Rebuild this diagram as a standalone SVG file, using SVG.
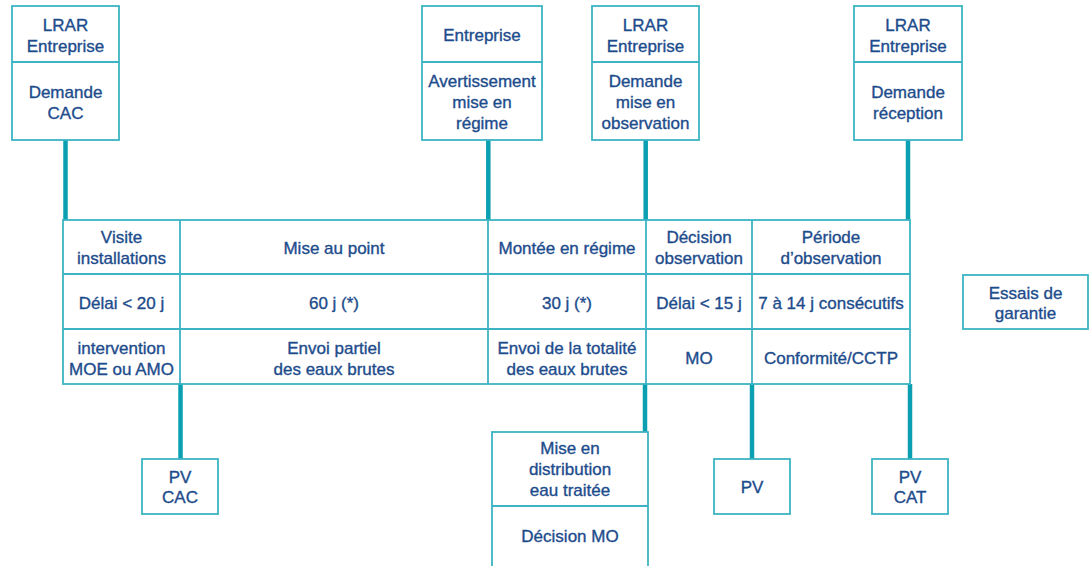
<svg xmlns="http://www.w3.org/2000/svg" width="1092" height="566" viewBox="0 0 1092 566">
<style>
.box{fill:#fff;stroke:#3cb4c4;stroke-width:1.8}
.ln{stroke:#3cb4c4;stroke-width:1.8;fill:none}
.con{stroke:#0aa0b2;stroke-width:4.5;fill:none}
text{font-family:"Liberation Sans",Arial,sans-serif;font-size:17px;fill:#1d4c8c;stroke:#1d4c8c;stroke-width:0.35;text-anchor:middle}
</style>
<rect width="1092" height="566" fill="#fff"/>
<g id="connectors">
<line class="con" x1="65.5" y1="140" x2="65.5" y2="220"/>
<line class="con" x1="488.3" y1="140" x2="488.3" y2="220"/>
<line class="con" x1="645.7" y1="140" x2="645.7" y2="220"/>
<line class="con" x1="908" y1="140" x2="908" y2="220"/>
<line class="con" x1="180.5" y1="384" x2="180.5" y2="459"/>
<line class="con" x1="645" y1="384" x2="645" y2="432"/>
<line class="con" x1="752" y1="384" x2="752" y2="459"/>
<line class="con" x1="910" y1="384" x2="910" y2="459"/>
</g>
<g id="top1">
<rect class="box" x="12" y="6" width="107" height="134"/>
<line class="ln" x1="12" y1="62" x2="119" y2="62"/>
<text x="65.5" y="31">LRAR</text><text x="65.5" y="52">Entreprise</text>
<text x="65.5" y="98">Demande</text><text x="65.5" y="119">CAC</text>
</g>
<g id="top2">
<rect class="box" x="422" y="6" width="120" height="134"/>
<line class="ln" x1="422" y1="62" x2="542" y2="62"/>
<text x="482" y="41">Entreprise</text>
<text x="482" y="87">Avertissement</text><text x="482" y="108">mise en</text><text x="482" y="129">régime</text>
</g>
<g id="top3">
<rect class="box" x="592" y="6" width="107" height="134"/>
<line class="ln" x1="592" y1="62" x2="699" y2="62"/>
<text x="645.5" y="31">LRAR</text><text x="645.5" y="52">Entreprise</text>
<text x="645.5" y="87">Demande</text><text x="645.5" y="108">mise en</text><text x="645.5" y="129">observation</text>
</g>
<g id="top4">
<rect class="box" x="854" y="6" width="108" height="134"/>
<line class="ln" x1="854" y1="62" x2="962" y2="62"/>
<text x="908" y="31">LRAR</text><text x="908" y="52">Entreprise</text>
<text x="908" y="98">Demande</text><text x="908" y="119">réception</text>
</g>
<g id="table">
<rect class="box" x="63" y="220" width="847" height="164"/>
<line class="ln" x1="63" y1="274" x2="910" y2="274"/>
<line class="ln" x1="63" y1="329" x2="910" y2="329"/>
<line class="ln" x1="180" y1="220" x2="180" y2="384"/>
<line class="ln" x1="488" y1="220" x2="488" y2="384"/>
<line class="ln" x1="646" y1="220" x2="646" y2="384"/>
<line class="ln" x1="752" y1="220" x2="752" y2="384"/>
<text x="121.5" y="243">Visite</text><text x="121.5" y="264">installations</text>
<text x="334" y="254">Mise au point</text>
<text x="567" y="254">Montée en régime</text>
<text x="699" y="243">Décision</text><text x="699" y="264">observation</text>
<text x="831" y="243">Période</text><text x="831" y="264">d’observation</text>
<text x="121.5" y="308.5">Délai &lt; 20 j</text>
<text x="334" y="308.5">60 j (*)</text>
<text x="567" y="308.5">30 j (*)</text>
<text x="699" y="308.5">Délai &lt; 15 j</text>
<text x="831" y="308.5">7 à 14 j consécutifs</text>
<text x="121.5" y="354">intervention</text><text x="121.5" y="375">MOE ou AMO</text>
<text x="334" y="354">Envoi partiel</text><text x="334" y="375">des eaux brutes</text>
<text x="567" y="354">Envoi de la totalité</text><text x="567" y="375">des eaux brutes</text>
<text x="699" y="364">MO</text>
<text x="831" y="364">Conformité/CCTP</text>
</g>
<g id="essais">
<rect class="box" x="963" y="275" width="125" height="54"/>
<text x="1025.5" y="299">Essais de</text><text x="1025.5" y="319">garantie</text>
</g>
<g id="pvcac">
<rect class="box" x="142" y="459" width="76" height="55"/>
<text x="180" y="482.5">PV</text><text x="180" y="503">CAC</text>
</g>
<g id="distribution">
<rect class="box" x="492" y="432" width="156" height="140"/>
<line class="ln" x1="492" y1="506" x2="648" y2="506"/>
<text x="570" y="454">Mise en</text><text x="570" y="475">distribution</text><text x="570" y="496">eau traitée</text>
<text x="570" y="542">Décision MO</text>
</g>
<g id="pv">
<rect class="box" x="714" y="459" width="76" height="55"/>
<text x="752" y="493">PV</text>
</g>
<g id="pvcat">
<rect class="box" x="872" y="459" width="76" height="55"/>
<text x="910" y="482.5">PV</text><text x="910" y="503">CAT</text>
</g>
</svg>
